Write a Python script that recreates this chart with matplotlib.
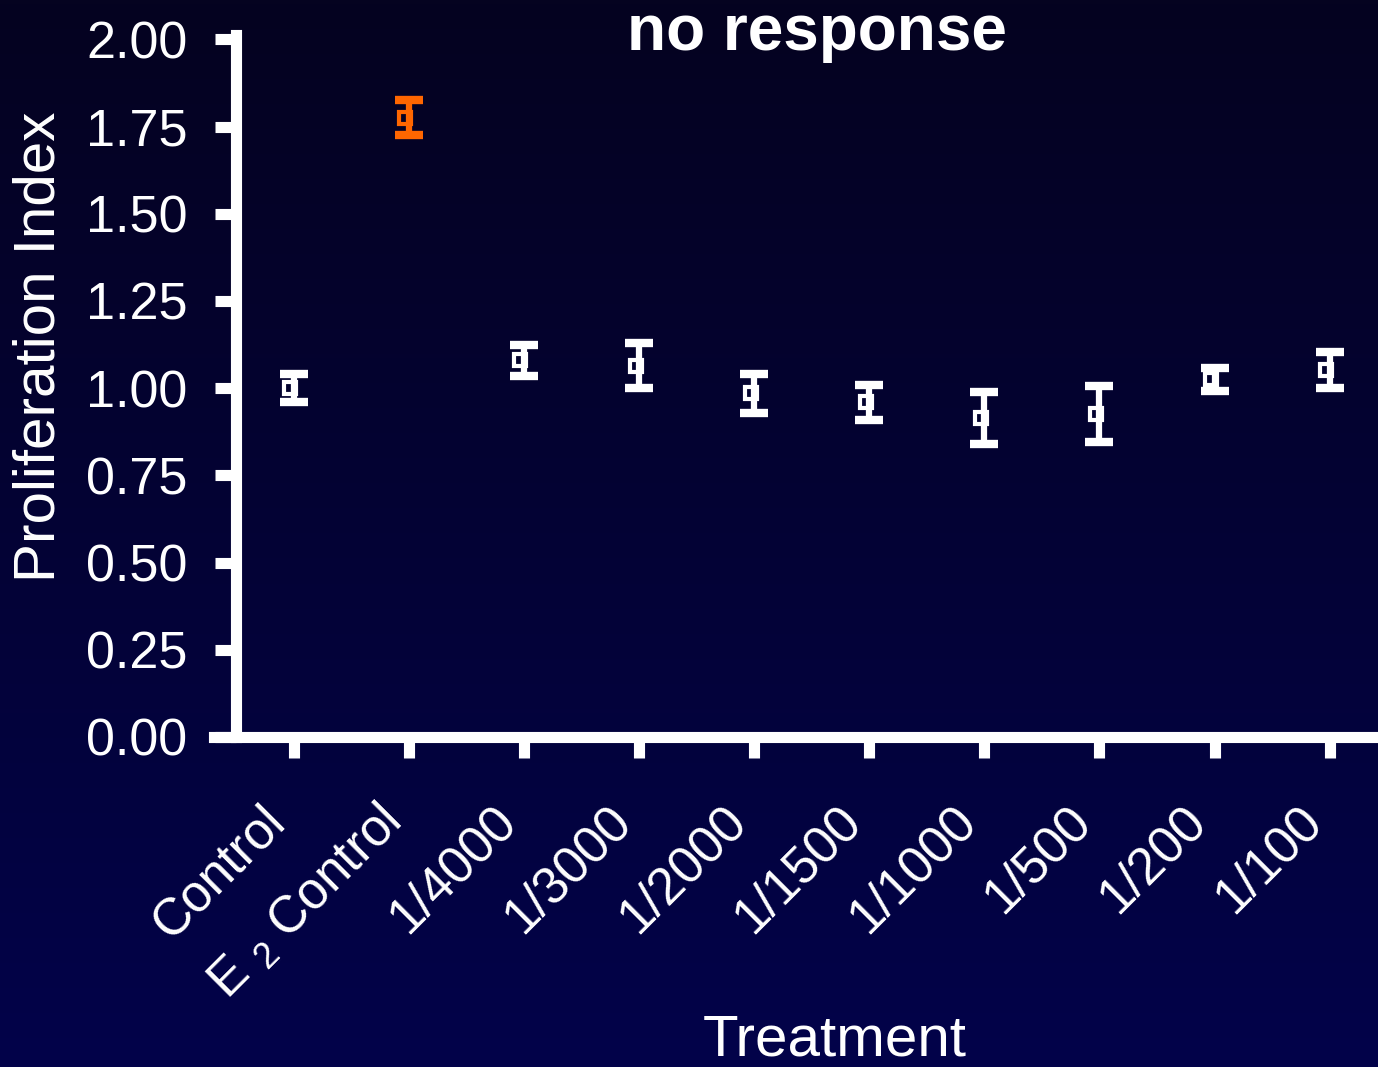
import numpy as np
import matplotlib.pyplot as plt
import matplotlib.transforms as mtransforms

plt.rcParams['font.family'] = ['Liberation Sans', 'DejaVu Sans']
plt.rcParams['mathtext.fontset'] = 'custom'
plt.rcParams['mathtext.rm'] = 'Liberation Sans'

# data
treatments = ['Control', 'E $_{2}$ Control', '1/4000', '1/3000', '1/2000',
              '1/1500', '1/1000', '1/500', '1/200', '1/100']
means = [1.00, 1.775, 1.08, 1.065, 0.985, 0.96, 0.915, 0.925, 1.025, 1.053]
errs = [0.04, 0.05, 0.045, 0.065, 0.055, 0.05, 0.075, 0.08, 0.033, 0.052]
colors = ['white', '#ff6600'] + ['white'] * 8
yticks = [0.0, 0.25, 0.5, 0.75, 1.0, 1.25, 1.5, 1.75, 2.0]

fig = plt.figure(figsize=(13.78, 10.67), dpi=100)

# gradient background
bg = fig.add_axes([0, 0, 1, 1], zorder=-1)
top = np.array([5, 3, 32]) / 255
bot = np.array([2, 2, 74]) / 255
t = np.linspace(0, 1, 256)[:, None, None]
grad = top * (1 - t) + bot * t
bg.imshow(np.repeat(grad, 2, axis=1), aspect='auto', extent=[0, 1, 0, 1])
bg.axis('off')

ax = fig.add_axes([0.1713, 0.3093, 0.8287, 0.6577])
ax.patch.set_alpha(0)

x = np.arange(1, len(treatments) + 1)
for xi, m, e, c in zip(x, means, errs, colors):
    ax.errorbar(xi, m, yerr=e, fmt='none', ecolor=c, elinewidth=4.5,
                capsize=10, capthick=6)
    ax.plot(xi - 0.03, m, marker='s', ms=8, mfc='none', mec=c, mew=3)

ax.set_xlim(0.5, 10.42)
ax.set_ylim(0, 2.012)
ax.set_yticks(yticks)
ax.set_yticklabels([f'{v:.2f}' for v in yticks])
ax.set_xticks(x)
ax.set_xticklabels(treatments, rotation=45, ha='right', rotation_mode='anchor')

for s in ['top', 'right']:
    ax.spines[s].set_visible(False)
for s in ['left', 'bottom']:
    ax.spines[s].set_linewidth(8)
    ax.spines[s].set_color('white')
ax.spines['bottom'].set_bounds(0.31, 10.42)

ax.tick_params(axis='both', colors='white', width=8, length=15)
ax.tick_params(axis='y', labelsize=37.5, pad=20)
ax.tick_params(axis='x', labelsize=37, pad=14)

# nudge the rotated labels down-left like the original
shift = mtransforms.ScaledTranslation(-24 / 72, -14 / 72, fig.dpi_scale_trans)
for lab in ax.xaxis.get_majorticklabels():
    lab.set_transform(lab.get_transform() + shift)

fig.text(0.029, 0.675, 'Proliferation Index', color='white', fontsize=42,
         rotation=90, ha='center', va='center')
fig.text(0.606, 0.025, 'Treatment', color='white', fontsize=42,
         ha='center', va='center')
fig.text(0.593, 0.953, 'no response', color='white', fontsize=46,
         fontweight='bold', ha='center', va='baseline')

fig.savefig('out.png', dpi=100)
